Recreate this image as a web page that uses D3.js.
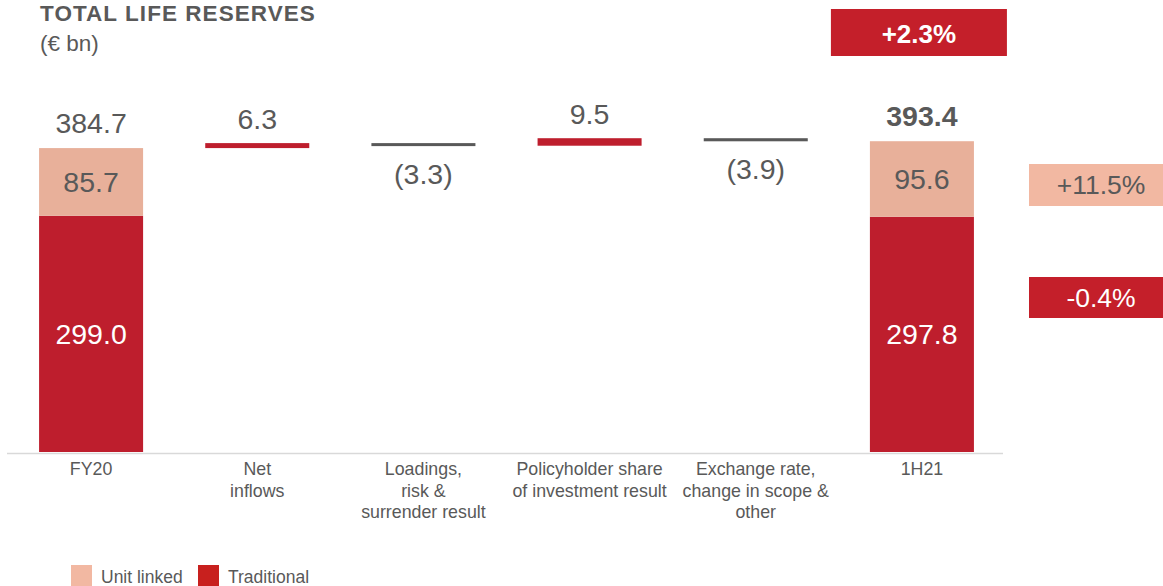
<!DOCTYPE html>
<html>
<head>
<meta charset="utf-8">
<script src="https://cdn.jsdelivr.net/npm/d3@7"></script>
<style>
  html, body { margin: 0; padding: 0; background: #fff; }
  svg { display: block; font-family: "Liberation Sans", Arial, sans-serif; }
</style>
</head>
<body>
<svg id="chart" width="1163" height="586"></svg>
<script>
// ---------- data ----------
const categories = ["FY20", "Net inflows", "Loadings, risk & surrender result",
  "Policyholder share of investment result", "Exchange rate, change in scope & other", "1H21"];
const categoryLines = [["FY20"], ["Net", "inflows"], ["Loadings,", "risk &", "surrender result"],
  ["Policyholder share", "of investment result"], ["Exchange rate,", "change in scope &", "other"], ["1H21"]];
const traditional = [299.0, null, null, null, null, 297.8];
const unitLinked  = [85.7, null, null, null, null, 95.6];
const totals      = [384.7, null, null, null, null, 393.4];
const deltas      = [null, 6.3, -3.3, 9.5, -3.9, null];
const deltaLabels = ["", "6.3", "(3.3)", "9.5", "(3.9)", ""];
const totalChange = "+2.3%";
const unitLinkedChange = "+11.5%";
const traditionalChange = "-0.4%";
const legendItems = ["Unit linked", "Traditional"];

// ---------- styles ----------
const RED = "#BE1E2D", PINK = "#E8B09A", GRAY = "#595959";
const LEG_RED = "#C8201E", LEG_PINK = "#F2B8A2", BOX_RED = "#C41F2A";

const svg = d3.select("#chart");

const x = d3.scaleBand().domain(categories).range([8, 1005])
  .paddingInner(0.374).paddingOuter(0.187);
const y = d3.scaleLinear().domain([0, 400]).range([452, 136]);

// title
svg.append("text").attr("x", 40).attr("y", 21)
  .attr("font-size", 22.5).attr("font-weight", "bold").attr("fill", GRAY)
  .attr("letter-spacing", 1.05).text("TOTAL LIFE RESERVES");
svg.append("text").attr("x", 40).attr("y", 51)
  .attr("font-size", 22.5).attr("fill", GRAY).text("(€ bn)");

// stacked total bars
const g = svg.append("g");
categories.forEach((c, i) => {
  if (traditional[i] == null) return;
  const x0 = x(c), w = x.bandwidth();
  g.append("rect").attr("x", x0).attr("width", w)
    .attr("y", y(traditional[i])).attr("height", y(0) - y(traditional[i])).attr("fill", RED);
  g.append("rect").attr("x", x0).attr("width", w)
    .attr("y", y(traditional[i] + unitLinked[i]))
    .attr("height", y(traditional[i]) - y(traditional[i] + unitLinked[i])).attr("fill", PINK);
  // labels
  g.append("text").attr("x", x0 + w / 2).attr("y", (y(traditional[i]) + y(0)) / 2 + 10)
    .attr("text-anchor", "middle").attr("font-size", 28.5).attr("fill", "#fff")
    .text(traditional[i].toFixed(1));
  g.append("text").attr("x", x0 + w / 2)
    .attr("y", (y(traditional[i]) + y(traditional[i] + unitLinked[i])) / 2 + 10)
    .attr("text-anchor", "middle").attr("font-size", 28.5).attr("fill", GRAY)
    .text(unitLinked[i].toFixed(1));
  g.append("text").attr("x", x0 + w / 2).attr("y", y(totals[i]) - 15)
    .attr("text-anchor", "middle").attr("font-size", 28.5).attr("fill", GRAY)
    .attr("font-weight", i === categories.length - 1 ? "bold" : "normal")
    .text(totals[i].toFixed(1));
});

// floating delta bars
let running = totals[0];
categories.forEach((c, i) => {
  if (deltas[i] == null) return;
  const start = running, end = running + deltas[i];
  running = end;
  const top = y(Math.max(start, end)), bottom = y(Math.min(start, end));
  const x0 = x(c), w = x.bandwidth();
  g.append("rect").attr("x", x0).attr("width", w)
    .attr("y", top).attr("height", Math.max(bottom - top, 3))
    .attr("fill", deltas[i] >= 0 ? RED : GRAY);
  g.append("text").attr("x", x0 + w / 2)
    .attr("y", deltas[i] >= 0 ? top - 14 : Math.max(bottom, top + 3) + 38)
    .attr("text-anchor", "middle").attr("font-size", 28.5).attr("fill", GRAY)
    .text(deltaLabels[i]);
});

// baseline axis
svg.append("line").attr("x1", 7).attr("x2", 1003).attr("y1", y(0) + 1.5).attr("y2", y(0) + 1.5)
  .attr("stroke", "#d9d9d9").attr("stroke-width", 1.5);

// category labels
categories.forEach((c, i) => {
  const t = svg.append("text").attr("x", x(c) + x.bandwidth() / 2).attr("y", 475)
    .attr("text-anchor", "middle").attr("font-size", 17.8).attr("fill", GRAY);
  categoryLines[i].forEach((ln, j) => {
    t.append("tspan").attr("x", x(c) + x.bandwidth() / 2).attr("dy", j === 0 ? 0 : 21.5).text(ln);
  });
});

// change boxes
const last = categories[categories.length - 1];
const cx = x(last) + x.bandwidth() / 2;
svg.append("rect").attr("x", cx - 91).attr("y", 9).attr("width", 176).attr("height", 47).attr("fill", BOX_RED);
svg.append("text").attr("x", cx - 3).attr("y", 43).attr("text-anchor", "middle")
  .attr("font-size", 26).attr("font-weight", "bold").attr("fill", "#fff").text(totalChange);

svg.append("rect").attr("x", 1029).attr("y", 164).attr("width", 150).attr("height", 42).attr("fill", LEG_PINK);
svg.append("text").attr("x", 1101).attr("y", 194).attr("text-anchor", "middle")
  .attr("font-size", 26.5).attr("fill", GRAY).text(unitLinkedChange);

svg.append("rect").attr("x", 1029).attr("y", 277).attr("width", 150).attr("height", 41).attr("fill", BOX_RED);
svg.append("text").attr("x", 1101).attr("y", 307).attr("text-anchor", "middle")
  .attr("font-size", 26.5).attr("fill", "#fff").text(traditionalChange);

// legend
const legColors = [LEG_PINK, LEG_RED];
const legX = [71, 198];
legendItems.forEach((d, i) => {
  svg.append("rect").attr("x", legX[i]).attr("y", 565).attr("width", 21).attr("height", 21).attr("fill", legColors[i]);
  svg.append("text").attr("x", legX[i] + 30).attr("y", 583).attr("font-size", 17.5).attr("fill", GRAY).text(d);
});
</script>
</body>
</html>
